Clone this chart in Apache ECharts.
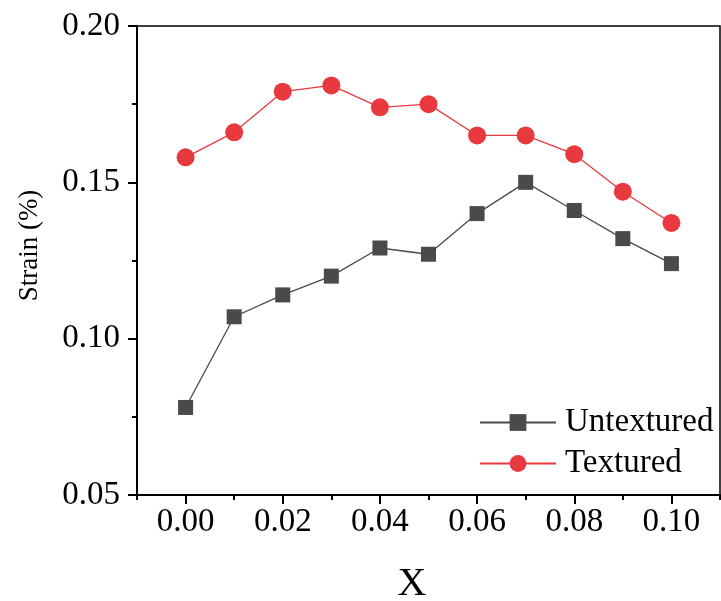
<!DOCTYPE html>
<html>
<head>
<meta charset="utf-8">
<script src="https://cdn.jsdelivr.net/npm/echarts@6/dist/echarts.min.js"></script>
<style>
html,body{margin:0;padding:0;background:#fff;}
#main{width:721px;height:601px;}
</style>
</head>
<body>
<div id="main"></div>
<script>
const xValues = [0.00, 0.01, 0.02, 0.03, 0.04, 0.05, 0.06, 0.07, 0.08, 0.09, 0.10];
const untextured = [0.078, 0.107, 0.114, 0.120, 0.129, 0.127, 0.140, 0.150, 0.141, 0.132, 0.124];
const textured = [0.158, 0.166, 0.179, 0.181, 0.174, 0.175, 0.165, 0.165, 0.159, 0.147, 0.137];
const xMajorTicks = [0.00, 0.02, 0.04, 0.06, 0.08, 0.10];
const xMinorTicks = [-0.01, 0.01, 0.03, 0.05, 0.07, 0.09, 0.11];
const seriesNames = ['Untextured', 'Textured'];

const FONT = '"Liberation Serif", "Times New Roman", serif';
const chart = echarts.init(document.getElementById('main'), null, {renderer: 'canvas'});

const pairs = (ys) => xValues.map((x, i) => [x, ys[i]]);

chart.setOption({
  animation: false,
  backgroundColor: '#fff',
  grid: {
    left: 137, right: 1, top: 26, bottom: 106,
    containLabel: false, outerBoundsMode: 'none',
    show: true, borderColor: '#000', borderWidth: 1.5, backgroundColor: 'transparent'
  },
  legend: {
    orient: 'vertical',
    left: 474, top: 401,
    itemWidth: 76, itemHeight: 21, itemGap: 8,
    textStyle: {fontFamily: FONT, fontSize: 33, color: '#000', lineHeight: 32, padding: [0,0,0,4]},
    data: seriesNames
  },
  xAxis: [{
    type: 'value', position: 'bottom',
    min: -0.01, max: 0.11,
    name: 'X', nameLocation: 'middle', nameGap: 69,
    nameTextStyle: {fontFamily: FONT, fontSize: 40, color: '#000', padding: [0, 33, 0, 0]},
    axisLine: {onZero: false, lineStyle: {color: '#000', width: 2}},
    axisTick: {show: true, inside: false, length: 9, lineStyle: {color: '#000', width: 2}, customValues: xMajorTicks},
    axisLabel: {
      fontFamily: FONT, fontSize: 33, color: '#000', margin: 11,
      customValues: xMajorTicks,
      formatter: (v) => v.toFixed(2)
    },
    splitLine: {show: false}
  }, {
    type: 'value', position: 'bottom',
    min: -0.01, max: 0.11,
    axisLine: {show: false, onZero: false},
    axisTick: {show: true, inside: false, length: 5, lineStyle: {color: '#000', width: 2}, customValues: xMinorTicks},
    axisLabel: {show: false},
    splitLine: {show: false}
  }],
  yAxis: {
    type: 'value',
    min: 0.05, max: 0.20, interval: 0.05,
    name: 'Strain (%)', nameLocation: 'middle', nameGap: 94,
    nameTextStyle: {fontFamily: FONT, fontSize: 27, color: '#000', padding: [0, 0, 0, 30]},
    axisLine: {onZero: false, lineStyle: {color: '#000', width: 2}},
    axisTick: {show: true, inside: false, length: 9, lineStyle: {color: '#000', width: 2}},
    minorTick: {show: true, splitNumber: 2, length: 5, lineStyle: {color: '#000', width: 2}},
    axisLabel: {
      fontFamily: FONT, fontSize: 33, color: '#000', margin: 17,
      formatter: (v) => v.toFixed(2)
    },
    splitLine: {show: false}
  },
  series: [{
    name: seriesNames[0],
    type: 'line',
    xAxisIndex: 0,
    data: pairs(untextured),
    symbol: 'rect', symbolSize: 15,
    itemStyle: {color: '#4a4a4a'},
    lineStyle: {color: '#4a4a4a', width: 1.3}
  }, {
    name: seriesNames[1],
    type: 'line',
    xAxisIndex: 0,
    data: pairs(textured),
    symbol: 'circle', symbolSize: 18,
    itemStyle: {color: '#e8393e'},
    lineStyle: {color: '#e8393e', width: 1.3}
  }]
});
</script>
</body>
</html>
